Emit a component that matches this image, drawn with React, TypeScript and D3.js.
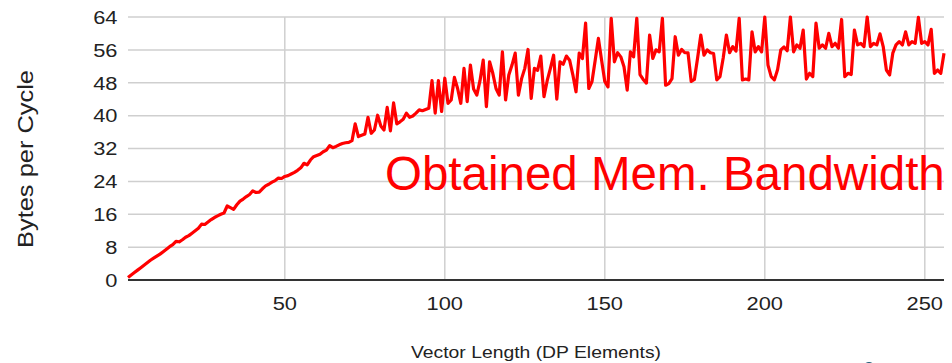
import { useRef, useEffect } from 'react'
import * as d3 from 'd3'

// bytes per cycle for vector lengths 1..256
const BYTES_PER_CYCLE = [
  0.6, 1.2, 1.8, 2.4, 3.0, 3.6, 4.2, 4.8, 5.3, 5.8,
  6.3, 6.9, 7.5, 8.1, 8.6, 9.4, 9.3, 9.8, 10.4, 10.8,
  11.4, 12.0, 12.6, 13.6, 13.5, 14.1, 14.7, 15.2, 15.6, 16.0,
  16.3, 18.0, 17.6, 17.2, 18.3, 19.2, 19.7, 20.3, 20.8, 21.7,
  21.3, 21.4, 22.2, 22.9, 23.3, 23.8, 24.2, 24.8, 24.7, 25.2,
  25.4, 25.8, 26.2, 26.7, 27.3, 28.4, 28.0, 29.2, 30.0, 30.3,
  30.6, 31.2, 31.6, 32.7, 32.2, 32.5, 32.9, 33.2, 33.4, 33.5,
  33.9, 38.0, 34.9, 35.2, 35.5, 39.6, 35.7, 36.5, 40.1, 37.5,
  36.5, 42.0, 36.3, 43.1, 38.0, 38.5, 39.1, 40.6, 39.6, 39.9,
  40.6, 41.4, 41.2, 41.5, 41.8, 48.5, 40.6, 48.5, 41.0, 49.1,
  43.0, 43.8, 49.3, 46.6, 43.0, 51.5, 43.4, 52.3, 46.5, 45.0,
  48.5, 53.5, 42.2, 53.1, 50.3, 46.6, 45.0, 55.5, 43.8, 49.9,
  52.3, 55.2, 45.0, 49.0, 51.5, 56.1, 44.2, 51.5, 51.0, 54.5,
  44.6, 48.5, 51.5, 54.7, 44.0, 53.1, 52.5, 54.5, 53.5, 50.0,
  45.8, 55.2, 53.9, 62.5, 46.6, 48.3, 53.5, 58.8, 53.5, 48.3,
  47.0, 63.7, 53.1, 55.3, 54.3, 51.9, 46.2, 55.5, 54.3, 63.7,
  50.0, 48.8, 47.9, 59.6, 53.9, 56.0, 55.5, 63.7, 47.4, 47.8,
  49.0, 59.2, 54.7, 56.1, 55.3, 55.3, 48.3, 48.8, 54.0, 59.6,
  54.7, 56.0, 55.3, 55.1, 48.7, 49.5, 54.0, 59.6, 55.3, 56.8,
  55.7, 63.7, 48.7, 48.9, 48.7, 60.4, 55.5, 56.8, 55.5, 64.0,
  52.3, 49.5, 48.7, 51.2, 56.0, 56.7, 55.8, 64.0, 55.5, 57.2,
  56.4, 60.8, 48.9, 50.3, 49.5, 62.5, 56.4, 57.2, 56.4, 60.0,
  56.8, 57.6, 56.4, 63.4, 49.5, 50.3, 50.0, 60.8, 57.2, 57.6,
  56.8, 64.0, 56.8, 57.6, 57.2, 59.9, 56.8, 51.1, 49.9, 55.2,
  57.2, 58.0, 57.2, 60.4, 57.2, 58.0, 57.6, 63.9, 57.6, 58.0,
  57.2, 61.0, 50.3, 51.1, 50.3, 55.2,
]

const X_TICKS = [50, 100, 150, 200, 250]
const Y_TICKS = [0, 8, 16, 24, 32, 40, 48, 56, 64]

const X_TITLE = 'Vector Length (DP Elements)'
const Y_TITLE = 'Bytes per Cycle'
const NOTE = 'Obtained Mem. Bandwidth'

const FONT = '"Liberation Sans", Arial, sans-serif'

export default function App() {
  const svgRef = useRef<SVGSVGElement>(null)

  useEffect(() => {
    if (!svgRef.current) return
    const W = 952
    const H = 363
    const left = 128, right = 944, top = 17, bottom = 280

    const svg = d3.select(svgRef.current)
    svg.selectAll('*').remove()
    svg.attr('width', W).attr('height', H).attr('viewBox', `0 0 ${W} ${H}`)

    const x = d3.scaleLinear().domain([1, 256]).range([left, right])
    const y = d3.scaleLinear().domain([0, 64]).range([bottom, top])

    // grid
    svg.append('g')
      .selectAll('line')
      .data(Y_TICKS.filter(d => d > 0))
      .join('line')
      .attr('x1', left).attr('x2', right)
      .attr('y1', d => y(d)).attr('y2', d => y(d))
      .attr('stroke', '#cfcfcf')
      .attr('stroke-width', 1.5)

    svg.append('g')
      .selectAll('line')
      .data(X_TICKS)
      .join('line')
      .attr('x1', d => x(d)).attr('x2', d => x(d))
      .attr('y1', top).attr('y2', bottom)
      .attr('stroke', '#cfcfcf')
      .attr('stroke-width', 1.5)

    // baseline
    svg.append('line')
      .attr('x1', left).attr('x2', right)
      .attr('y1', y(0)).attr('y2', y(0))
      .attr('stroke', '#333')
      .attr('stroke-width', 2)

    // y tick labels
    svg.append('g')
      .selectAll('text')
      .data(Y_TICKS)
      .join('text')
      .attr('transform', d => `translate(117.5,${y(d)}) scale(1.15,1)`)
      .attr('dy', '0.36em')
      .attr('text-anchor', 'end')
      .attr('font-family', FONT)
      .attr('font-size', 19)
      .attr('fill', '#222')
      .text(d => d)

    // x tick labels
    svg.append('g')
      .selectAll('text')
      .data(X_TICKS)
      .join('text')
      .attr('transform', d => `translate(${x(d)},310) scale(1.15,1)`)
      .attr('text-anchor', 'middle')
      .attr('font-family', FONT)
      .attr('font-size', 19)
      .attr('fill', '#222')
      .text(d => d)

    // axis titles
    svg.append('text')
      .attr('x', 411).attr('y', 358)
      .attr('textLength', 250)
      .attr('lengthAdjust', 'spacingAndGlyphs')
      .attr('font-family', FONT)
      .attr('font-size', 16.5)
      .attr('fill', '#222')
      .text(X_TITLE)

    svg.append('text')
      .attr('transform', 'translate(33,248) rotate(-90)')
      .attr('textLength', 178)
      .attr('lengthAdjust', 'spacingAndGlyphs')
      .attr('font-family', FONT)
      .attr('font-size', 22)
      .attr('fill', '#222')
      .text(Y_TITLE)

    // series
    const line = d3.line<number>()
      .x((d, i) => x(i + 1))
      .y(d => y(d))

    svg.append('path')
      .datum(BYTES_PER_CYCLE)
      .attr('d', line)
      .attr('fill', 'none')
      .attr('stroke', '#ff0000')
      .attr('stroke-width', 3.2)
      .attr('stroke-linejoin', 'round')

    // annotation
    svg.append('text')
      .attr('x', 385).attr('y', 190)
      .attr('font-family', FONT)
      .attr('font-size', 47.5)
      .attr('fill', '#ff0000')
      .text(NOTE)

    // corner of a cut-off logo
    svg.append('circle')
      .attr('cx', 869).attr('cy', 368)
      .attr('r', 6)
      .attr('fill', '#1d5b78')
  }, [])

  return (
    <svg
      ref={svgRef}
      style={{ position: 'absolute', left: 0, top: 0, display: 'block', background: '#fff' }}
    />
  )
}
